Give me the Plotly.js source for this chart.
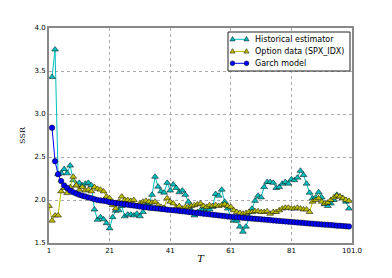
<!DOCTYPE html>
<html><head><meta charset="utf-8">
<script src="https://cdn.plot.ly/plotly-3.0.1.min.js"></script>
<style>html,body{margin:0;padding:0;background:#fff}#chart{width:392px;height:278px}</style>
</head><body><div id="chart"></div>
<script>
var T = [1,2,3,4,5,6,7,8,9,10,11,12,13,14,15,16,17,18,19,20,21,22,23,24,25,26,27,28,29,30,
31,32,33,34,35,36,37,38,39,40,41,42,43,44,45,46,47,48,49,50,51,52,53,54,55,56,57,58,59,60,
61,62,63,64,65,66,67,68,69,70,71,72,73,74,75,76,77,78,79,80,81,82,83,84,85,86,87,88,89,90,
91,92,93,94,95,96,97,98,99,100];

var historical = [null,3.43,3.75,2.30,2.31,2.36,2.31,2.40,2.23,2.17,
2.20,2.17,2.19,2.20,2.17,1.89,1.77,1.80,1.775,1.73,
1.67,1.80,1.875,1.88,1.93,1.81,1.83,1.83,1.82,1.84,
1.81,1.86,1.94,1.96,2.06,2.27,2.155,2.10,2.085,2.20,
2.11,2.18,2.14,2.09,2.11,2.06,1.98,1.88,1.82,1.86,
1.88,1.89,1.90,1.89,1.92,2.07,2.05,2.12,1.98,1.90,
1.80,1.76,1.76,1.69,1.63,1.69,1.80,1.90,1.99,2.05,
2.03,2.15,2.21,2.21,2.20,2.14,2.15,2.19,2.21,2.19,
2.24,2.23,2.26,2.34,2.29,2.19,2.085,2.02,2.03,2.09,
2.03,1.95,1.93,1.96,2.00,2.06,2.04,2.02,1.98,1.90];

var option = [1.93,1.76,1.82,1.82,2.10,2.14,2.08,2.15,2.27,2.17,
2.12,2.15,2.11,2.12,2.10,2.15,2.13,2.12,2.10,2.04,
2.02,1.94,1.90,1.98,2.04,2.00,2.00,1.99,2.00,1.93,
1.96,1.98,1.99,1.98,1.97,1.98,1.94,1.92,1.91,2.02,
1.98,1.96,1.91,1.93,1.90,1.92,1.92,1.93,1.94,1.95,
1.96,1.93,1.92,1.94,1.93,1.94,1.93,1.94,1.95,1.93,
1.92,1.88,1.86,1.85,1.84,1.85,1.86,1.86,1.87,1.87,
1.86,1.86,1.87,1.84,1.86,1.86,1.88,1.90,1.91,1.91,
1.90,1.90,1.91,1.90,1.89,1.89,1.86,1.98,2.00,2.02,
1.98,1.96,1.97,2.00,2.03,2.05,2.04,2.02,2.00,1.99];

var garch = [null,2.84,2.45,2.30,2.22,2.17,2.14,2.11,2.09,2.075,
2.06,2.05,2.04,2.03,2.02,2.01,2.00,1.995,1.99,1.985,
1.975,1.97,1.965,1.96,1.955,1.95,1.945,1.94,1.935,1.93,
1.925,1.92,1.915,1.91,1.907,1.903,1.90,1.896,1.892,1.888,
1.885,1.881,1.877,1.873,1.869,1.865,1.861,1.857,1.853,1.849,
1.845,1.841,1.837,1.833,1.829,1.825,1.821,1.817,1.813,1.809,
1.805,1.802,1.799,1.796,1.793,1.790,1.787,1.784,1.781,1.778,
1.775,1.772,1.769,1.766,1.763,1.760,1.757,1.754,1.751,1.748,
1.745,1.742,1.739,1.736,1.733,1.730,1.727,1.724,1.722,1.719,
1.716,1.713,1.711,1.708,1.705,1.702,1.700,1.697,1.694,1.692];

var seriesNames = ['Historical estimator','Option data (SPX_IDX)','Garch model'];
var seriesColors = ['#00BFBF','#BFBF00','#0000FF'];
var xTickVals = [1,21,41,61,81,101];
var xTickText = ['1','21','41','61','81','101.0'];
var yTickVals = [1.5,2.0,2.5,3.0,3.5,4.0];
var yTickText = ['1.5','2.0','2.5','3.0','3.5','4.0'];

var traces = [
  {x:T, y:historical, name:seriesNames[0], type:'scatter', mode:'lines+markers',
   line:{color:seriesColors[0], width:1}, marker:{symbol:'triangle-up', size:6, color:seriesColors[0], line:{color:'#000', width:0.5}}},
  {x:T, y:option, name:seriesNames[1], type:'scatter', mode:'lines+markers',
   line:{color:seriesColors[1], width:1}, marker:{symbol:'triangle-up', size:6, color:seriesColors[1], line:{color:'#000', width:0.5}}},
  {x:T, y:garch, name:seriesNames[2], type:'scatter', mode:'lines+markers',
   line:{color:seriesColors[2], width:1}, marker:{symbol:'circle', size:5.5, color:seriesColors[2], line:{color:'#000', width:0.5}}}
];

// plot area in pixels (for the hand-built compact legend)
var PL = 49, PR = 352, PT = 28, PB = 243;
function px(x){ return (x - PL) / (PR - PL); }
function py(y){ return (PB - y) / (PB - PT); }

var shapes = [];
var annotations = [];
shapes.push({type:'rect', xref:'paper', yref:'paper', x0:px(228), x1:px(350), y0:py(71), y1:py(32),
  fillcolor:'#fff', line:{color:'#222', width:1}, layer:'above'});
var rowsY = [39.3, 51.5, 63.3];
var symbols = ['tri','tri','circ'];
for (var i = 0; i < 3; i++) {
  var yy = rowsY[i];
  shapes.push({type:'line', xref:'paper', yref:'paper', x0:px(232.5), x1:px(246.5), y0:py(yy), y1:py(yy),
    line:{color:seriesColors[i], width:1}, layer:'above'});
  [232.5, 246.5].forEach(function(cx){
    if (symbols[i] === 'tri') {
      var p = 'M' + px(cx-2.6) + ',' + py(yy+1.6) + ' L' + px(cx+2.6) + ',' + py(yy+1.6) + ' L' + px(cx) + ',' + py(yy-2.8) + ' Z';
      shapes.push({type:'path', xref:'paper', yref:'paper', path:p, fillcolor:seriesColors[i], line:{color:'#000', width:0.5}, layer:'above'});
    } else {
      shapes.push({type:'circle', xref:'paper', yref:'paper', x0:px(cx-2.4), x1:px(cx+2.4), y0:py(yy+2.4), y1:py(yy-2.4),
        fillcolor:seriesColors[i], line:{color:'#000', width:0.5}, layer:'above'});
    }
  });
  annotations.push({xref:'paper', yref:'paper', x:px(254), y:py(yy), xanchor:'left', yanchor:'middle',
    text:seriesNames[i], showarrow:false, borderpad:0, font:{family:'DejaVu Sans', size:8, color:'#000'}});
}

var axisCommon = {showline:true, mirror:true, linecolor:'#888', linewidth:2,
  showgrid:true, gridcolor:'#aaa', griddash:'dot', gridwidth:1, zeroline:false,
  ticks:'', tickfont:{family:'DejaVu Sans', size:7, color:'#000'}};

var layout = {
  width:392, height:278,
  margin:{l:PL, r:392-PR, t:PT, b:278-PB},
  paper_bgcolor:'#fff', plot_bgcolor:'#fff',
  showlegend:false,
  xaxis:Object.assign({}, axisCommon, {range:[1,101], tickmode:'array', tickvals:xTickVals, ticktext:xTickText,
    title:{text:'<i>T</i>', font:{family:'DejaVu Serif', size:10, color:'#000'}, standoff:1}}),
  yaxis:Object.assign({}, axisCommon, {range:[1.5,4.0], tickmode:'array', tickvals:yTickVals, ticktext:yTickText,
    title:{text:'SSR', font:{family:'DejaVu Serif', size:8, color:'#000'}, standoff:8}}),
  shapes:shapes,
  annotations:annotations
};

Plotly.newPlot('chart', traces, layout, {displayModeBar:false, staticPlot:true});
</script></body></html>
